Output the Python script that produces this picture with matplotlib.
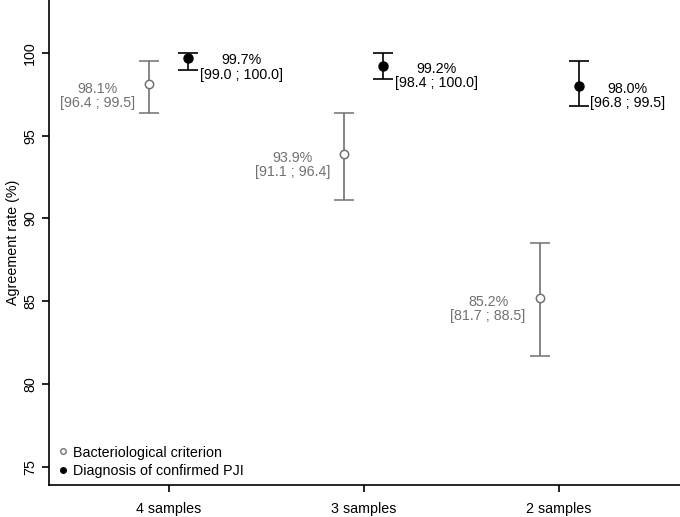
import numpy as np
import matplotlib.pyplot as plt
from matplotlib.lines import Line2D

plt.rcParams["font.family"] = ["Liberation Sans", "DejaVu Sans"]

groups = ["4 samples", "3 samples", "2 samples"]

bact_rate = [98.1, 93.9, 85.2]
bact_low = [96.4, 91.1, 81.7]
bact_high = [99.5, 96.4, 88.5]

pji_rate = [99.7, 99.2, 98.0]
pji_low = [99.0, 98.4, 96.8]
pji_high = [100.0, 100.0, 99.5]

gray = "#717171"
fs = 10.3

fig = plt.figure(figsize=(6.8, 5.17), dpi=100)
ax = fig.add_axes([0.072, 0.062, 0.928, 0.938])

x = np.arange(1, len(groups) + 1)
xb = x - 0.1
xp = x + 0.1

b = np.array(bact_rate)
p = np.array(pji_rate)

ax.errorbar(xb, b, yerr=[b - np.array(bact_low), np.array(bact_high) - b],
            fmt="o", mfc="white", mec=gray, ecolor=gray, ms=6, mew=1.1,
            elinewidth=1.2, capsize=7, capthick=1.2)
ax.errorbar(xp, p, yerr=[p - np.array(pji_low), np.array(pji_high) - p],
            fmt="o", mfc="black", mec="black", ecolor="black", ms=6.5,
            elinewidth=1.2, capsize=7, capthick=1.2)

for xi, v, lo, hi in zip(xb, bact_rate, bact_low, bact_high):
    ax.annotate("%.1f%%\n[%.1f ; %.1f]" % (v, lo, hi), (xi, v),
                xytext=(-10, -8), textcoords="offset points",
                ha="right", va="center", multialignment="center",
                color=gray, fontsize=fs, linespacing=1.0)

for xi, v, lo, hi in zip(xp, pji_rate, pji_low, pji_high):
    ax.annotate("%.1f%%\n[%.1f ; %.1f]" % (v, lo, hi), (xi, v),
                xytext=(8, -7), textcoords="offset points",
                ha="left", va="center", multialignment="center",
                color="black", fontsize=fs, linespacing=1.05)

ax.set_xlim(0.385, 3.62)
ax.set_ylim(73.9, 103.2)
ax.set_xticks(x)
ax.set_xticklabels(groups, fontsize=fs)
ax.set_yticks([75, 80, 85, 90, 95, 100])
ax.set_yticklabels(["75", "80", "85", "90", "95", "100"], rotation=90,
                   va="center", fontsize=fs)
ax.set_ylabel("Agreement rate (%)", fontsize=fs, labelpad=2)

for s in ["top", "right"]:
    ax.spines[s].set_visible(False)
for s in ["left", "bottom"]:
    ax.spines[s].set_linewidth(1.2)
ax.tick_params(direction="out", length=5, width=1.2)
ax.tick_params(axis="x", pad=7)

handles = [
    Line2D([], [], ls="none", marker="o", mfc="white", mec=gray, ms=4),
    Line2D([], [], ls="none", marker="o", mfc="black", mec="black", ms=4),
]
ax.legend(handles, ["Bacteriological criterion", "Diagnosis of confirmed PJI"],
          loc="lower left", frameon=False, fontsize=fs, handletextpad=0.15,
          labelspacing=0.3, borderaxespad=0.1, handlelength=1.0)

fig.savefig("out.png", dpi=100)
